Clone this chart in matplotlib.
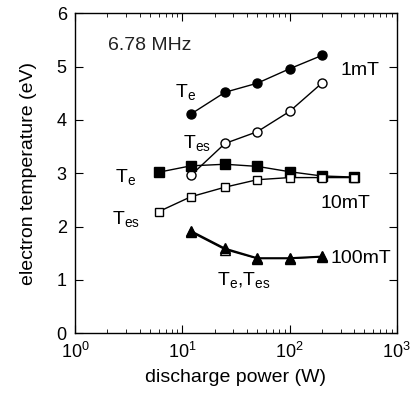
import numpy as np
import matplotlib.pyplot as plt

plt.rcParams['font.family'] = ['Liberation Sans', 'DejaVu Sans']
plt.rcParams['mathtext.fontset'] = 'custom'
plt.rcParams['mathtext.rm'] = 'Liberation Sans'
plt.rcParams['mathtext.it'] = 'Liberation Sans'
plt.rcParams['mathtext.default'] = 'regular'

# discharge power (W)
p_1mT = [12, 25, 50, 100, 200]
te_1mT = [4.11, 4.52, 4.69, 4.96, 5.21]
tes_1mT = [2.96, 3.56, 3.78, 4.16, 4.69]

p_10mT = [6, 12, 25, 50, 100, 200, 400]
te_10mT = [3.02, 3.14, 3.17, 3.13, 3.03, 2.95, 2.93]
tes_10mT = [2.28, 2.56, 2.74, 2.88, 2.92, 2.92, 2.92]

p_100mT = [12, 25, 50, 100, 200]
te_100mT = [1.92, 1.59, 1.41, 1.41, 1.44]
tes_100mT = [1.90, 1.57, 1.40, 1.40, 1.43]

fig, ax = plt.subplots(figsize=(4.15, 3.93), dpi=100)
fig.subplots_adjust(left=0.181, right=0.956, top=0.966, bottom=0.152)

ax.plot(p_1mT, te_1mT, 'k-o', ms=6.5, lw=1)
ax.plot(p_1mT, tes_1mT, 'k-o', ms=6.5, lw=1, mfc='white')
ax.plot(p_10mT, te_10mT, 'k-s', ms=7, lw=1)
ax.plot(p_10mT, tes_10mT, 'k-s', ms=6, lw=1, mfc='white')
ax.plot(p_100mT, tes_100mT, 'k-^', ms=6.5, lw=1, mfc='white')
ax.plot(p_100mT, te_100mT, 'k-^', ms=6.5, lw=1.3)

ax.set_xscale('log')
ax.set_xlim(1, 1000)
ax.set_ylim(0, 6)
ax.set_yticks(range(7))
ax.tick_params(which='both', direction='in', top=True, right=True, labelsize=13)
ax.tick_params(which='major', length=6)
ax.tick_params(which='minor', length=3)
ax.tick_params(axis='x', which='major', pad=6)
ax.tick_params(axis='y', which='major', pad=6)
for s in ax.spines.values():
    s.set_linewidth(1)

ax.set_xlabel('discharge power (W)', fontsize=14, labelpad=5)
ax.set_ylabel('electron temperature (eV)', fontsize=14, labelpad=14)

fs = 14
ax.text(2.03, 5.32, '6.78 MHz', fontsize=fs, color='#222222')
ax.text(296, 4.85, '1mT', fontsize=fs)
ax.text(8.6, 4.43, 'T$_e$', fontsize=fs)
ax.text(10.2, 3.48, 'T$_{es}$', fontsize=fs)
ax.text(2.36, 2.84, 'T$_e$', fontsize=fs)
ax.text(2.21, 2.05, 'T$_{es}$', fontsize=fs)
ax.text(193, 2.35, '10mT', fontsize=fs)
ax.text(239, 1.32, '100mT', fontsize=fs)
ax.text(21.1, 0.91, 'T$_e$,T$_{es}$', fontsize=fs)

fig.savefig('out.png', dpi=100)
